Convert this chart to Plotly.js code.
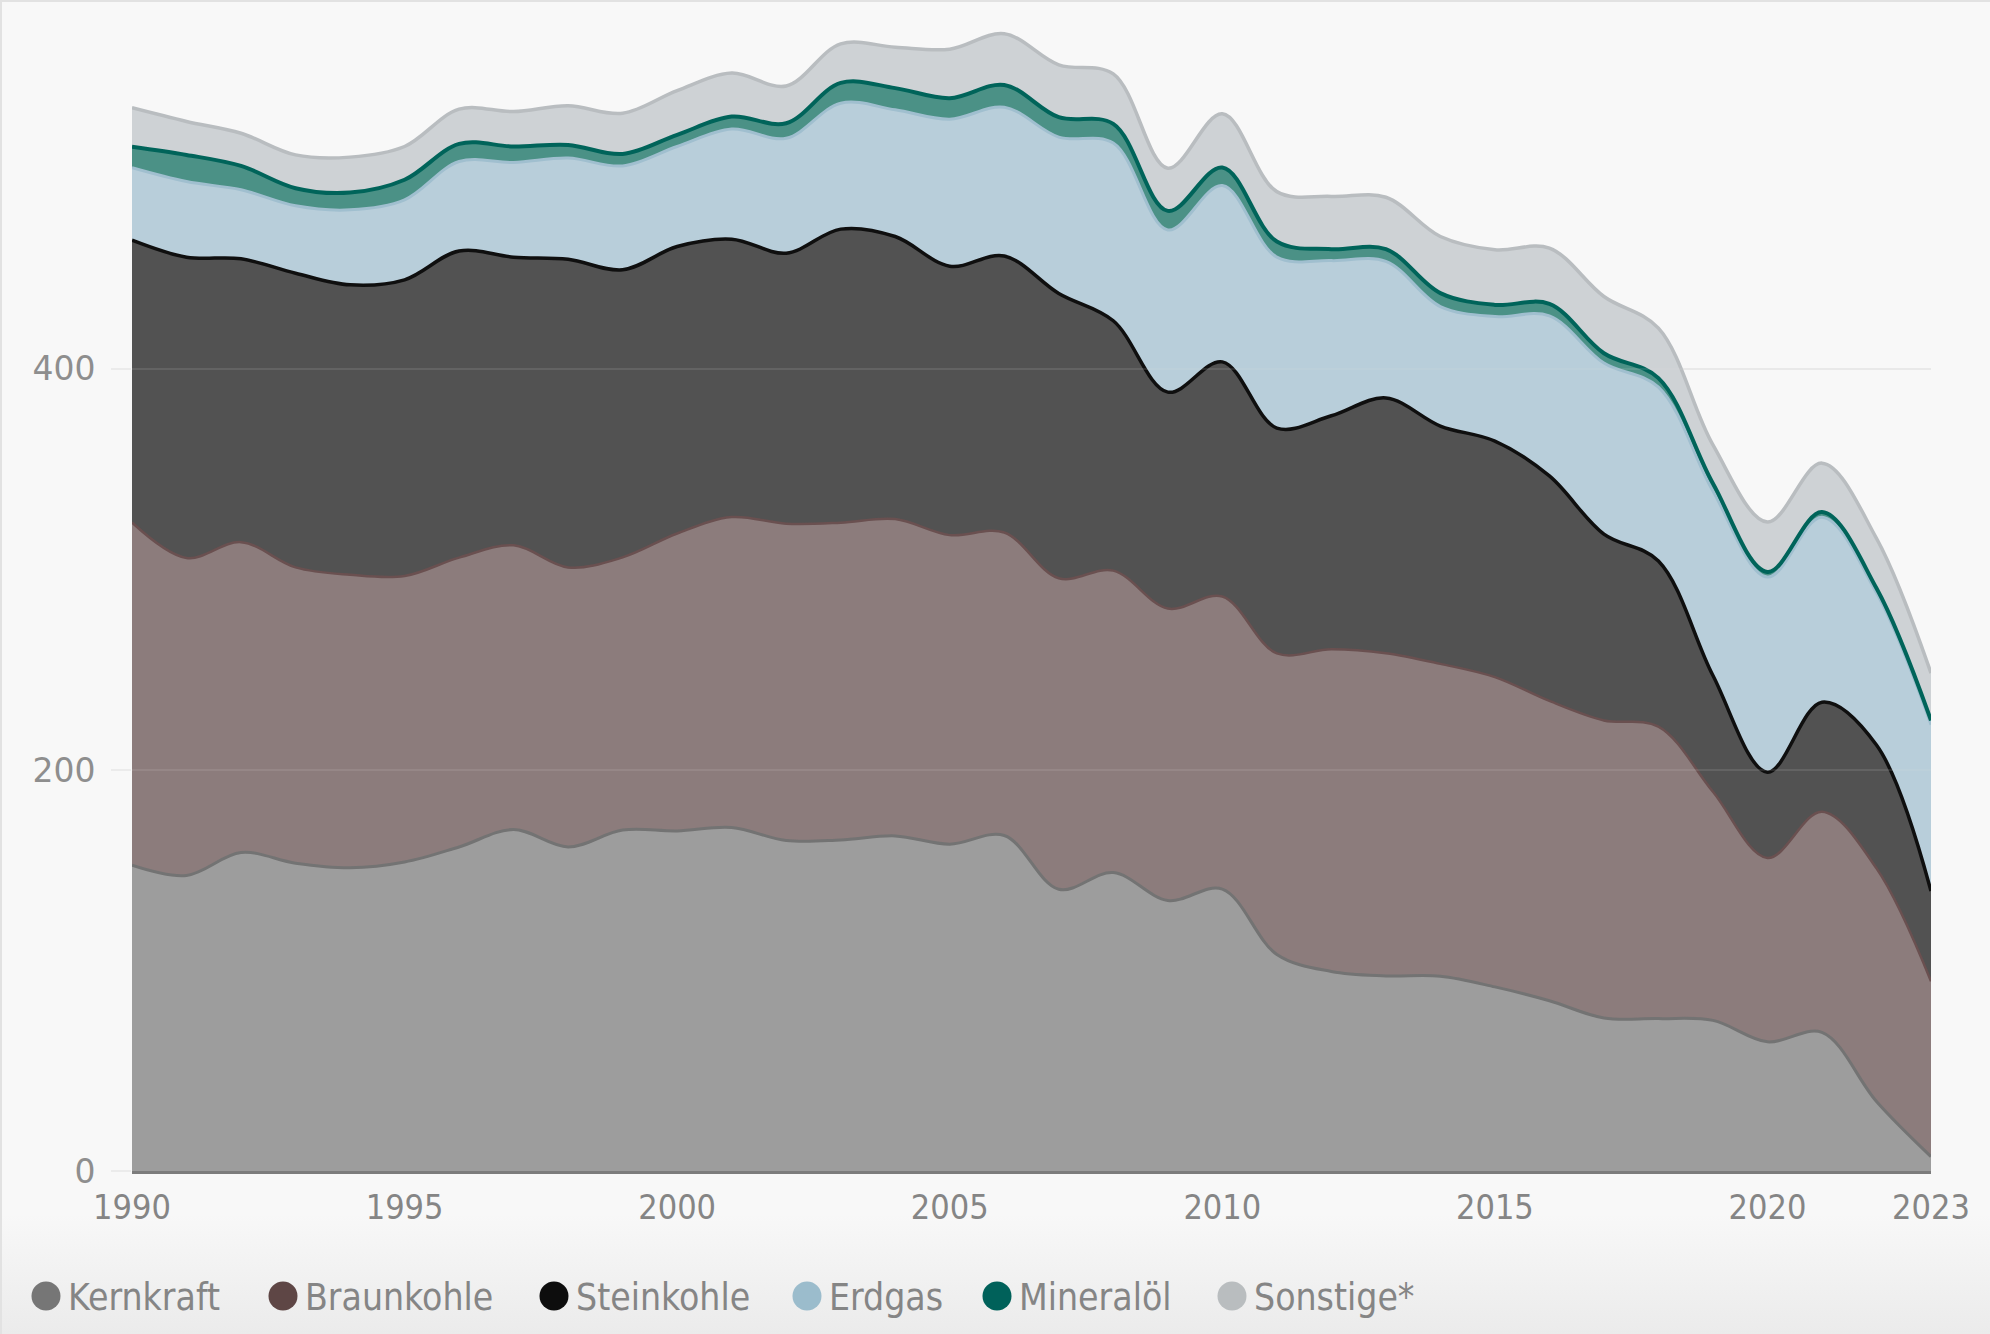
<!DOCTYPE html>
<html>
<head>
<meta charset="utf-8">
<script src="https://cdn.plot.ly/plotly-3.0.1.min.js"></script>
<style>
  html, body { margin: 0; padding: 0; }
  #wrap {
    width: 1990px; height: 1334px; position: relative;
    background: linear-gradient(to bottom, #f8f8f8 0%, #f8f8f8 91%, #ebebeb 100%);
    box-shadow: inset 2px 2px 0 #e2e2e2;
  }
  #chart { width: 1990px; height: 1334px; position: absolute; left: 0; top: 0; }
</style>
</head>
<body>
<div id="wrap"><div id="chart"></div></div>
<script>
// ---------- data ----------
const years = [1990,1991,1992,1993,1994,1995,1996,1997,1998,1999,2000,2001,2002,2003,2004,2005,2006,2007,2008,2009,2010,2011,2012,2013,2014,2015,2016,2017,2018,2019,2020,2021,2022,2023];
const kernkraft  = [152.5,147.4,158.8,153.5,151.2,154.1,161.6,170.3,161.6,170.0,169.6,171.3,164.8,165.1,167.1,163.0,167.3,140.5,148.8,134.9,140.6,108.0,99.5,97.3,97.1,91.8,84.9,76.3,76.0,75.1,64.4,69.1,34.7,7.2];
const braunkohle = [170.9,158.3,154.8,147.5,146.1,142.6,144.3,141.7,139.4,136.0,148.3,154.8,158.0,158.2,158.0,154.1,151.1,155.1,150.6,145.6,145.9,150.1,160.7,160.9,155.8,154.5,149.5,148.4,145.6,114.0,91.7,110.1,116.2,87.4];
const steinkohle = [140.8,150.0,141.3,146.7,144.6,147.7,152.9,143.7,153.7,143.4,143.1,138.6,134.9,146.4,140.9,134.1,137.9,142.0,124.6,107.9,117.0,112.4,116.4,127.3,118.6,117.7,112.2,92.9,82.6,58.0,42.8,54.6,61.5,45.0];
const erdgas     = [36.1,37.7,34.4,33.6,37.4,39.9,44.6,47.2,50.4,51.8,49.9,54.9,57.3,62.8,63.2,73.3,74.2,78.0,88.6,80.9,87.9,85.2,77.4,68.1,59.6,62.1,79.8,85.3,86.7,92.0,97.3,92.2,75.9,83.0];
const mineraloel = [10.5,13.3,11.9,8.8,8.6,10.0,8.8,8.0,6.6,6.0,5.8,6.2,7.5,10.1,10.8,10.5,11.1,9.9,9.6,9.5,9.0,7.8,5.7,6.1,6.7,5.8,6.0,4.9,4.5,3.8,2.5,2.6,2.3,2.1];
const sonstige   = [19.4,16.7,16.3,16.6,17.7,16.6,17.3,17.4,19.5,20.3,22.1,21.7,18.6,19.5,20.4,24.4,25.5,26.1,24.9,21.3,26.8,24.9,26.3,25.9,28.2,27.5,27.8,28.3,24.9,19.2,24.9,24.4,24.9,23.6];

const seriesNames = ["Kernkraft","Braunkohle","Steinkohle","Erdgas","Mineralöl","Sonstige*"];
const xTickVals = [1990,1995,2000,2005,2010,2015,2020,2023];
const xTickText = ["1990","1995","2000","2005","2010","2015","2020","2023"];
const yTickVals = [0,200,400];
const yTickText = ["0","200","400"];

// ---------- styles ----------
const seriesValues = [kernkraft, braunkohle, steinkohle, erdgas, mineraloel, sonstige];
const fillColors   = ["#9d9d9d","#8c7c7c","#525252","#b8ceda","#4b9186","#ced2d5"];
const lineColors   = ["#737373","#6a5050","#0f0f0f","#a0bfcf","#00645a","#b9bdc0"];
const lineWidths   = [3, 2.5, 3.5, 3, 4, 3.5];
const legendColors = ["#767676","#5e4645","#0d0d0d","#9bbccc","#00615a","#b9bdbf"];

const condensed = "'DejaVu Sans Condensed', 'Liberation Sans Narrow', 'Roboto', sans-serif";

const traces = seriesValues.map((vals, i) => ({
  type: "scatter",
  mode: "lines",
  x: years,
  y: vals,
  name: seriesNames[i],
  stackgroup: "one",
  fillcolor: fillColors[i],
  line: { color: lineColors[i], width: lineWidths[i], shape: "spline", smoothing: 1 },
  hoverinfo: "skip",
  showlegend: false
}));

// plot geometry (px)
const W = 1990, H = 1334;
const M = { l: 132, r: 59, t: 20, b: 163 };
const plotW = W - M.l - M.r, plotH = H - M.t - M.b;
const yMax = plotH / 2.0053;

// custom legend (circle + label)
const legendMarkerPx = [46, 283, 554, 807, 997, 1232];
const legendYPx = 1296;
const toPaperX = px => (px - M.l) / plotW;
const toPaperY = py => (H - M.b - py) / plotH;

const shapes = [];
const annotations = [];
seriesNames.forEach((nm, i) => {
  shapes.push({
    type: "circle", xref: "paper", yref: "paper",
    xsizemode: "pixel", ysizemode: "pixel",
    xanchor: toPaperX(legendMarkerPx[i]), yanchor: toPaperY(legendYPx),
    x0: -14.5, x1: 14.5, y0: -14.5, y1: 14.5,
    fillcolor: legendColors[i], line: { width: 0 }, layer: "above"
  });
  annotations.push({
    xref: "paper", yref: "paper",
    x: toPaperX(legendMarkerPx[i] + 20), y: toPaperY(legendYPx + 1),
    xanchor: "left", yanchor: "middle", showarrow: false,
    text: nm, font: { family: condensed, size: 37, color: "#858585" }
  });
});
// faint gridlines drawn over the areas
yTickVals.filter(v => v > 0).forEach(v => {
  shapes.push({
    type: "line", xref: "paper", yref: "y", x0: 0, x1: 1, y0: v, y1: v,
    line: { color: "rgba(225,225,225,0.12)", width: 2 }, layer: "above"
  });
});

const layout = {
  width: W, height: H,
  margin: M,
  paper_bgcolor: "rgba(0,0,0,0)",
  plot_bgcolor: "rgba(0,0,0,0)",
  showlegend: false,
  hovermode: false,
  xaxis: {
    range: [1990, 2023],
    tickmode: "array", tickvals: xTickVals, ticktext: xTickText,
    showgrid: false, zeroline: false,
    showline: true, linecolor: "#7c7c7c", linewidth: 3,
    ticks: "", ticklabelstandoff: 4,
    tickfont: { family: condensed, size: 34, color: "#858585" },
    layer: "above traces",
    fixedrange: true
  },
  yaxis: {
    range: [0, yMax],
    tickmode: "array", tickvals: yTickVals, ticktext: yTickText,
    showgrid: true, gridcolor: "#ebebeb", gridwidth: 2,
    zeroline: false, showline: false,
    ticks: "outside", ticklen: 20, tickcolor: "#ebebeb", tickwidth: 2,
    ticklabelstandoff: 9,
    tickfont: { family: "'DejaVu Sans', sans-serif", size: 33, color: "#8e8e8e" },
    fixedrange: true
  },
  shapes: shapes,
  annotations: annotations
};

Plotly.newPlot("chart", traces, layout, { displayModeBar: false, staticPlot: true });
</script>
</body>
</html>
